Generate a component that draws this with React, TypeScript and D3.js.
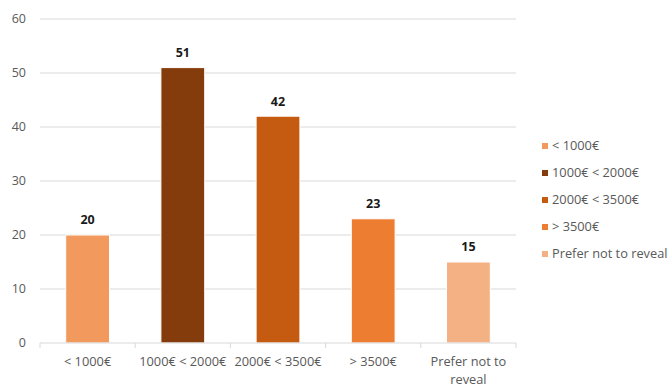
import React from "react";
import * as d3 from "d3";

const categories = ["< 1000€", "1000€ < 2000€", "2000€ < 3500€", "> 3500€", "Prefer not to reveal"];
const axisLabels = [["< 1000€"], ["1000€ < 2000€"], ["2000€ < 3500€"], ["> 3500€"], ["Prefer not to", "reveal"]];
const values = [20, 51, 42, 23, 15];
const colors = ["#F29A5E", "#843C0C", "#C55A11", "#ED7D31", "#F4B183"];
const yTicks = [0, 10, 20, 30, 40, 50, 60];

const W = 670;
const H = 388;
const left = 40;
const right = 516;
const top = 19;
const bottom = 343;
const font = "'Open Sans', 'Noto Sans', sans-serif";
const textColor = "#595959";

export default function App() {
  const x = d3.scaleBand<string>().domain(categories).range([left, right]).paddingInner(0.54).paddingOuter(0.27);
  const y = d3.scaleLinear().domain([0, 60]).range([bottom, top]);
  const bw = x.bandwidth();
  const band = (right - left) / categories.length;

  return (
    <svg width={W} height={H} style={{ position: "absolute", left: 0, top: 0, background: "#fff" }}>
      {yTicks.map((t) => (
        <g key={t}>
          {t > 0 && <line x1={left} x2={right} y1={y(t)} y2={y(t)} stroke="#D9D9D9" strokeWidth={1} />}
          <text x={26} y={y(t)} dy="0.35em" textAnchor="end" fontFamily={font} fontSize={12.5} fill={textColor}>
            {t}
          </text>
        </g>
      ))}
      {values.map((v, i) => (
        <g key={categories[i]}>
          <rect
            x={x(categories[i])!}
            y={y(v)}
            width={bw}
            height={bottom - y(v)}
            fill={colors[i]}
            stroke="#fff"
            strokeWidth={1}
          />
          <text
            x={x(categories[i])! + bw / 2}
            y={y(v) - 15}
            dy="0.35em"
            textAnchor="middle"
            fontFamily={font}
            fontSize={12.5}
            fontWeight="bold"
            fill="#1a1a1a"
          >
            {v}
          </text>
        </g>
      ))}
      <line x1={left} x2={right} y1={bottom} y2={bottom} stroke="#D9D9D9" strokeWidth={1} />
      {d3.range(categories.length + 1).map((i) => (
        <line key={i} x1={left + i * band} x2={left + i * band} y1={bottom} y2={bottom + 5} stroke="#D9D9D9" />
      ))}
      {axisLabels.map((lines, i) => (
        <text key={i} y={362} textAnchor="middle" fontFamily={font} fontSize={12.8} fill={textColor}>
          {lines.map((l, j) => (
            <tspan key={j} x={x(categories[i])! + bw / 2} dy={j === 0 ? "0.35em" : 18}>
              {l}
            </tspan>
          ))}
        </text>
      ))}
      {categories.map((c, i) => (
        <g key={c} transform={`translate(542, ${146 + i * 27})`}>
          <rect x={0} y={-3} width={6} height={6} fill={colors[i]} />
          <text x={10} y={0} dy="0.35em" fontFamily={font} fontSize={12.8} fill={textColor}>
            {c}
          </text>
        </g>
      ))}
    </svg>
  );
}
